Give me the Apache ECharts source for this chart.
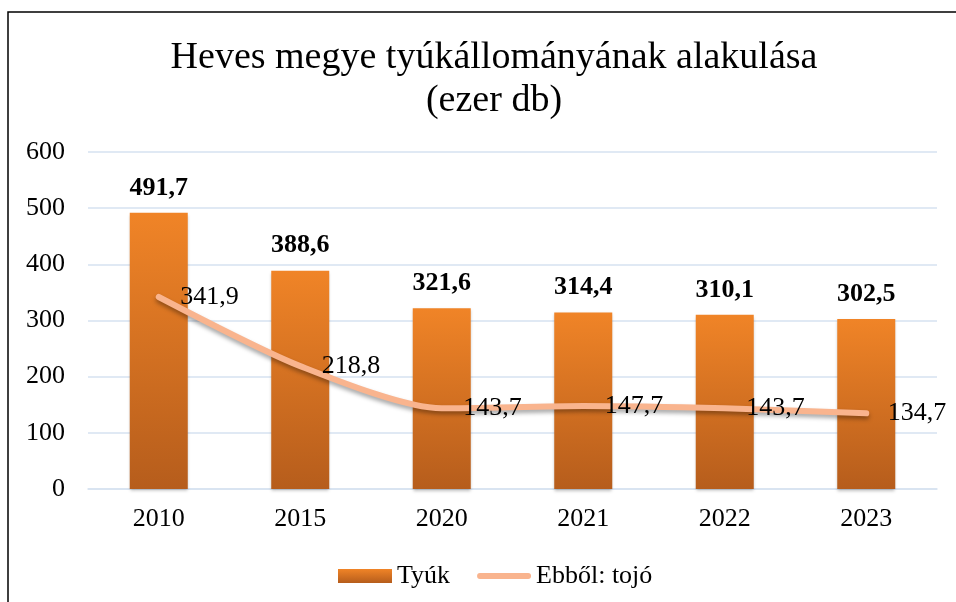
<!DOCTYPE html>
<html>
<head>
<meta charset="utf-8">
<script src="https://cdn.jsdelivr.net/npm/echarts@6/dist/echarts.min.js"></script>
<style>
  html, body { margin: 0; padding: 0; background: #fff; }
  #chart { width: 956px; height: 602px; }
</style>
</head>
<body>
<div id="chart"></div>
<script>
// évek és értékek (ezer db)
const years = ["2010", "2015", "2020", "2021", "2022", "2023"];
const tyuk = [491.7, 388.6, 321.6, 314.4, 310.1, 302.5];
const tojo = [341.9, 218.8, 143.7, 147.7, 143.7, 134.7];
const yTicks = [0, 100, 200, 300, 400, 500, 600];

const font = "'Liberation Serif', 'Times New Roman', serif";
const fmt = (v) => v.toFixed(1).replace(".", ",");
const lineColor = "#f9b48e";

const chart = echarts.init(document.getElementById("chart"));
chart.setOption({
  animation: false,
  textStyle: { fontFamily: font },
  graphic: [{
    type: "rect",
    shape: { x: 8, y: 12, width: 1000, height: 700 },
    style: { fill: "none", stroke: "#000", lineWidth: 1.5 },
    silent: true,
    z: -1
  }],
  title: {
    text: "Heves megye tyúkállományának alakulása\n(ezer db)",
    left: 489,
    top: 32,
    textAlign: "center",
    textStyle: { fontFamily: font, fontSize: 38, fontWeight: "normal", color: "#000", lineHeight: 43 }
  },
  legend: {
    bottom: 8,
    left: 333,
    itemGap: 27,
    textStyle: { fontFamily: font, fontSize: 26, color: "#000" },
    data: [
      { name: "Tyúk", icon: "rect" },
      {
        name: "Ebből: tojó",
        icon: "path://M3,0 L53,0 A3,3 0 0 1 53,6 L3,6 A3,3 0 0 1 3,0 Z",
        itemStyle: { color: lineColor }
      }
    ],
    itemWidth: 54,
    itemHeight: 14
  },
  grid: { left: 88, right: 19, top: 152, bottom: 113 },
  xAxis: {
    type: "category",
    data: years,
    axisLine: { show: true, lineStyle: { color: "#d6e2f0", width: 1.5 } },
    axisTick: { show: false },
    axisLabel: { fontFamily: font, fontSize: 26, color: "#000", margin: 17 }
  },
  yAxis: {
    type: "value",
    min: yTicks[0],
    max: yTicks[yTicks.length - 1],
    interval: 100,
    axisLine: { show: false },
    axisTick: { show: false },
    splitLine: { lineStyle: { color: "#d6e2f0", width: 1.5 } },
    axisLabel: { fontFamily: font, fontSize: 26, color: "#000", margin: 23 }
  },
  series: [
    {
      name: "Tyúk",
      type: "bar",
      data: tyuk,
      barWidth: 58,
      itemStyle: {
        color: new echarts.graphic.LinearGradient(0, 0, 0, 1, [
          { offset: 0, color: "#f08427" },
          { offset: 1, color: "#b65d1c" }
        ]),
        shadowColor: "rgba(0,0,0,0.25)",
        shadowBlur: 3,
        shadowOffsetY: 2
      },
      label: {
        show: true,
        position: "top",
        distance: 12,
        fontFamily: font,
        fontSize: 26,
        fontWeight: "bold",
        color: "#000",
        formatter: (p) => fmt(p.value)
      }
    },
    {
      name: "Ebből: tojó",
      type: "line",
      data: tojo,
      smooth: 0.25,
      symbol: "circle",
      symbolSize: 1,
      showSymbol: true,
      lineStyle: {
        color: lineColor,
        width: 6,
        cap: "round",
        shadowColor: "rgba(0,0,0,0.35)",
        shadowBlur: 4,
        shadowOffsetY: 3
      },
      itemStyle: { color: "rgba(0,0,0,0)" },
      label: {
        show: true,
        position: "right",
        distance: 21,
        fontFamily: font,
        fontSize: 26,
        color: "#000",
        formatter: (p) => fmt(p.value)
      },
      z: 3
    }
  ]
});
</script>
</body>
</html>
